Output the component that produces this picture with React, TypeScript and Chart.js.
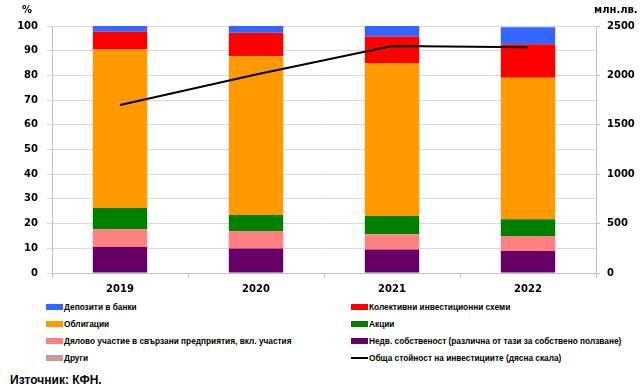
import React, { useEffect, useRef } from "react";
import { Chart, registerables } from "chart.js";

Chart.register(...registerables);

const categories = ["2019", "2020", "2021", "2022"];
const realEstate = [10.5, 9.9, 9.5, 8.9];
const participations = [7.2, 7.1, 6.2, 6.1];
const shares = [8.6, 6.5, 7.4, 6.8];
const bonds = [64.2, 64.3, 61.9, 57.2];
const cis = [7.2, 9.5, 10.7, 13.6];
const deposits = [2.3, 2.7, 4.3, 6.9];
const other = [0, 0, 0, 0];
const totalInvestments = [1700, 2010, 2297, 2284];

const leftTicks = { min: 0, max: 100, step: 10 };
const rightTicks = { min: 0, max: 2500, step: 500 };

const labels = {
  deposits: "Депозити в банки",
  cis: "Колективни инвестиционни схеми",
  bonds: "Облигации",
  shares: "Акции",
  participations: "Дялово участие в свързани предприятия, вкл. участия",
  realEstate: "Недв. собственост (различна от тази за собствено ползване)",
  other: "Други",
  total: "Обща стойност на инвестициите (дясна скала)",
};

const colors = {
  deposits: "#3366FF",
  cis: "#FF0000",
  bonds: "#FF9900",
  shares: "#008000",
  participations: "#FF8080",
  realEstate: "#660066",
  other: "#CC9999",
  total: "#000000",
};

const legendOrder: (keyof typeof labels)[] = [
  "deposits", "cis", "bonds", "shares", "participations", "realEstate", "other", "total",
];

const tickFont = { family: "'DejaVu Sans', sans-serif", size: 10, weight: "bold" as const };
const gridColor = "#D9D9D9";
const axisColor = "#BFBFBF";

export default function App() {
  const ref = useRef<HTMLCanvasElement | null>(null);

  useEffect(() => {
    if (!ref.current) return;
    const bar = (key: keyof typeof labels, data: number[]) => ({
      type: "bar" as const,
      label: labels[key],
      data,
      backgroundColor: colors[key],
      borderWidth: 0,
      yAxisID: "y",
      order: 1,
      categoryPercentage: 1,
      barPercentage: 0.4,
    });
    const chart = new Chart(ref.current, {
      type: "bar",
      data: {
        labels: categories,
        datasets: [
          bar("realEstate", realEstate),
          bar("participations", participations),
          bar("shares", shares),
          bar("bonds", bonds),
          bar("cis", cis),
          bar("deposits", deposits),
          bar("other", other),
          {
            type: "line" as const,
            label: labels.total,
            data: totalInvestments,
            borderColor: colors.total,
            borderWidth: 2,
            pointRadius: 0,
            tension: 0,
            yAxisID: "y1",
            order: 0,
          } as any,
        ],
      },
      options: {
        responsive: false,
        animation: false,
        devicePixelRatio: 1,
        layout: { padding: { top: 26, left: 0, right: 0, bottom: 0 } },
        plugins: { legend: { display: false }, tooltip: { enabled: false } },
        scales: {
          x: {
            stacked: true,
            offset: true,
            grid: {
              offset: true,
              drawOnChartArea: false,
              drawTicks: true,
              tickLength: 5,
              color: axisColor,
            },
            border: { color: axisColor },
            ticks: { font: tickFont, color: "#000", padding: 5 },
            afterFit: (s: any) => { s.height = 27; },
          },
          y: {
            stacked: true,
            position: "left",
            min: leftTicks.min,
            max: leftTicks.max,
            grid: { color: gridColor, drawTicks: true, tickLength: 5 },
            border: { color: axisColor },
            ticks: { stepSize: leftTicks.step, font: tickFont, color: "#000", padding: 9 },
            afterFit: (s: any) => { s.width = 52; },
          },
          y1: {
            position: "right",
            min: rightTicks.min,
            max: rightTicks.max,
            grid: { drawOnChartArea: false, drawTicks: true, tickLength: 4, color: axisColor },
            border: { color: axisColor },
            ticks: {
              stepSize: rightTicks.step,
              font: tickFont,
              color: "#000",
              padding: 7,
              callback: (v: any) => String(v),
            },
            afterFit: (s: any) => { s.width = 45; },
          },
        },
      },
    });
    return () => chart.destroy();
  }, []);

  const legendFont: React.CSSProperties = {
    fontFamily: "'Liberation Sans', Arial, sans-serif",
    fontWeight: "bold",
    fontSize: 8.3,
    color: "#000",
    whiteSpace: "nowrap",
  };
  const rowY = [307, 324, 341, 358];

  return (
    <div style={{ position: "absolute", left: 0, top: 0, width: 641, height: 385, background: "#fff" }}>
      <canvas ref={ref} width={641} height={300} style={{ position: "absolute", left: 0, top: 0 }} />
      <div style={{ position: "absolute", left: 22, top: 4, fontFamily: "'DejaVu Sans', sans-serif", fontWeight: "bold", fontSize: 10 }}>%</div>
      <div style={{ position: "absolute", left: 594, top: 4, fontFamily: "'DejaVu Sans', sans-serif", fontWeight: "bold", fontSize: 10 }}>млн.лв.</div>
      {legendOrder.map((key, i) => {
        const col = i % 2;
        const row = Math.floor(i / 2);
        const left = col === 0 ? 46 : 351;
        const y = rowY[row];
        return (
          <div key={key} style={{ position: "absolute", left, top: y - 6, height: 12, display: "flex", alignItems: "center", ...legendFont }}>
            {key === "total" ? (
              <span style={{ display: "inline-block", width: 17, height: 2, background: colors[key] }} />
            ) : (
              <span style={{ display: "inline-block", width: 17, height: 6, background: colors[key] }} />
            )}
            <span style={{ marginLeft: 1 }}>{labels[key]}</span>
          </div>
        );
      })}
      <div style={{ position: "absolute", left: 10, top: 373, fontFamily: "'Liberation Sans', Arial, sans-serif", fontWeight: "bold", fontSize: 12 }}>Източник: КФН.</div>
    </div>
  );
}
